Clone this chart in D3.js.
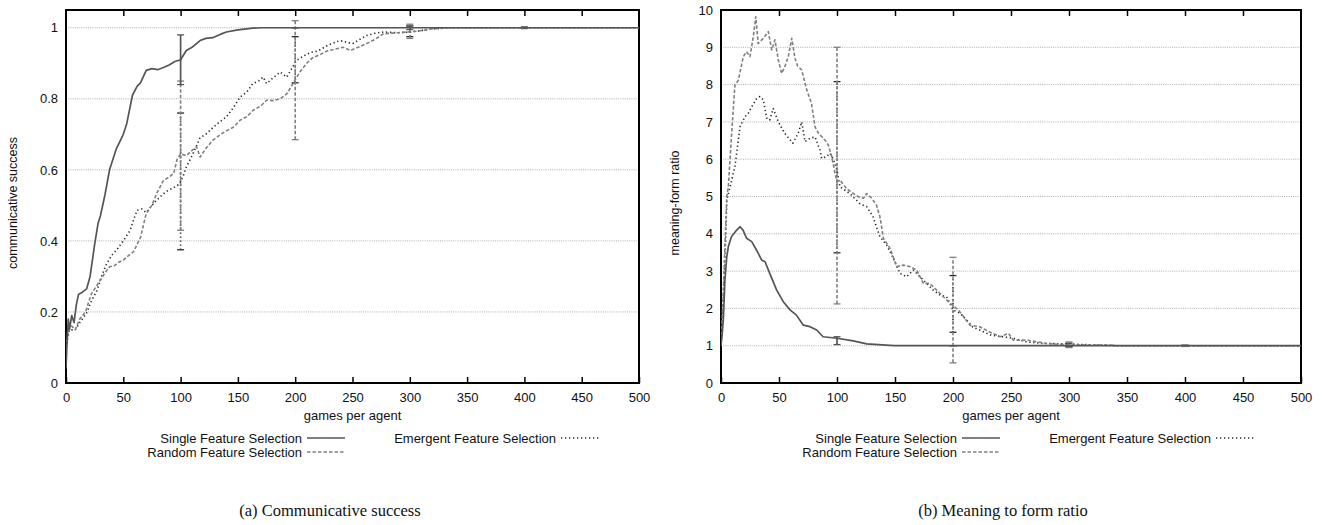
<!DOCTYPE html>
<html>
<head>
<meta charset="utf-8">
<script src="https://cdn.jsdelivr.net/npm/d3@7"></script>
<style>
  html, body { margin: 0; padding: 0; background: #fff; }
  svg { display: block; }
  text { font-family: "Liberation Sans", Arial, Helvetica, sans-serif; fill: #111; }
  .caption { font-family: "Liberation Serif", "Times New Roman", serif; }
</style>
</head>
<body>
<svg id="chart" width="1322" height="525"></svg>
<script>
// ---------------- DATA ----------------
const xTicks = [0, 50, 100, 150, 200, 250, 300, 350, 400, 450, 500];
const csYTicks = [0, 0.2, 0.4, 0.6, 0.8, 1];
const mfYTicks = [0, 1, 2, 3, 4, 5, 6, 7, 8, 9, 10];
const seriesNames = ["Single Feature Selection", "Random Feature Selection", "Emergent Feature Selection"];

// (a) communicative success: [games per agent, value]
const csSingle = [[0,0.04],[1,0.12],[2,0.18],[3,0.15],[5,0.19],[7,0.17],[9,0.22],[11,0.25],[14,0.255],[18,0.265],[21,0.3],[25,0.39],[28,0.45],[30,0.47],[34,0.53],[38,0.6],[44,0.66],[50,0.7],[53,0.73],[58,0.81],[62,0.835],[65,0.845],[70,0.88],[75,0.885],[80,0.882],[85,0.888],[90,0.895],[95,0.905],[100,0.91],[105,0.936],[110,0.945],[117,0.964],[122,0.97],[128,0.972],[135,0.982],[140,0.988],[150,0.994],[163,0.999],[170,1],[500,1]];
const csRandom = [[0,0.1],[2,0.15],[5,0.16],[8,0.15],[12,0.18],[17,0.2],[22,0.25],[26,0.27],[30,0.29],[34,0.31],[38,0.327],[42,0.33],[46,0.34],[50,0.346],[55,0.36],[59,0.37],[62,0.39],[65,0.41],[70,0.477],[75,0.5],[79,0.533],[85,0.57],[90,0.58],[94,0.59],[97,0.63],[100,0.645],[105,0.64],[110,0.655],[114,0.665],[117,0.636],[122,0.66],[128,0.683],[135,0.7],[140,0.71],[146,0.72],[152,0.74],[158,0.75],[163,0.767],[170,0.78],[175,0.796],[181,0.795],[187,0.8],[193,0.815],[198,0.843],[204,0.875],[210,0.9],[215,0.915],[222,0.925],[228,0.935],[235,0.94],[242,0.945],[248,0.936],[255,0.945],[262,0.955],[270,0.968],[277,0.983],[285,0.985],[297,0.988],[305,0.99],[312,0.993],[320,0.997],[335,1],[500,1]];
const csEmergent = [[0,0.1],[3,0.15],[8,0.149],[12,0.17],[18,0.197],[22,0.23],[27,0.26],[31,0.3],[35.5,0.336],[40,0.36],[44,0.374],[50,0.4],[56,0.43],[59,0.46],[62,0.486],[66,0.49],[70,0.48],[75,0.5],[79,0.514],[84,0.53],[88,0.54],[94,0.55],[99,0.56],[102,0.58],[105,0.608],[110,0.64],[117,0.69],[122,0.7],[128.5,0.72],[134,0.735],[140,0.749],[146,0.775],[152,0.805],[158,0.82],[163,0.843],[168,0.85],[172,0.861],[175,0.843],[181,0.86],[187,0.875],[192.6,0.861],[197,0.885],[201,0.908],[207,0.92],[213,0.93],[220,0.935],[228,0.95],[239,0.964],[250,0.955],[262,0.978],[270,0.985],[277,0.988],[290,0.986],[300,0.988],[310,0.992],[320,0.997],[335,1],[500,1]];
// error bars: [x, low, high]
const csErrSingle = [[100,0.84,0.98],[200,1,1],[300,0.995,1.005],[400,0.999,1.001]];
const csErrRandom = [[100,0.43,0.85],[200,0.685,1.02],[300,0.97,1.01],[400,0.998,1.002]];
const csErrEmergent = [[100,0.375,0.76],[200,0.845,0.975],[300,0.975,1.005],[400,0.998,1.002]];

// (b) meaning-form ratio
const mfSingle = [[0,1],[1,1.3],[2,1.69],[3.4,2.76],[5,3.39],[6.3,3.65],[9,3.92],[13.5,4.1],[16.5,4.19],[19,4.1],[22,3.88],[26.5,3.79],[30.7,3.56],[35,3.3],[38,3.25],[42,2.94],[48,2.49],[53.7,2.18],[59.5,1.96],[65,1.82],[71,1.55],[76.7,1.51],[82.5,1.42],[88,1.24],[100,1.2],[114,1.13],[125.6,1.05],[145.7,1.01],[150,1],[500,1]];
const mfRandom = [[0,1],[2,2.5],[4,4.2],[5,5],[6.3,5.26],[9.2,6.7],[12,7.99],[15,8.12],[19.2,8.75],[22,8.88],[25,8.75],[27.8,9.28],[30,9.82],[32,9.1],[36.5,9.24],[40.8,9.42],[43.7,8.93],[46.5,9.2],[49.4,8.66],[52.3,8.3],[55,8.48],[58,8.75],[61,9.24],[63.8,8.7],[66,8.5],[69.6,8.39],[73.9,7.86],[78,7.5],[81,6.87],[84,6.7],[89.7,6.51],[92.5,6.38],[95.4,6.07],[98.3,5.62],[100,5.4],[102.6,5.44],[108,5.22],[114,5.08],[118,5],[122.8,4.95],[125.6,5.08],[130,4.95],[134,4.77],[137,4.46],[140,3.88],[145.7,3.61],[151.5,3.12],[157,3.16],[163,3.12],[168.7,3.03],[174.4,2.67],[180,2.67],[188.8,2.4],[197.4,2.14],[204.6,1.96],[209,1.78],[214.7,1.55],[223,1.51],[232,1.36],[240.5,1.24],[247.7,1.33],[252,1.15],[263.5,1.15],[281,1.06],[301,1.02],[335,1.02],[340,1],[500,1]];
const mfEmergent = [[0,1],[2,2.2],[4,3.8],[5,4.9],[7.8,5.26],[12,5.8],[16.4,6.87],[20.7,7.14],[23.5,7.23],[26.5,7.41],[30.8,7.63],[33.6,7.68],[36.5,7.59],[39.4,7.1],[42,7.05],[45,7.36],[49.4,7],[55,6.69],[62,6.43],[66.6,6.7],[69.6,7],[72.4,6.47],[76.7,6.56],[81,6.6],[85.3,6.25],[86.8,6.02],[91,6.07],[94,6.16],[97,5.98],[100,5.7],[102.6,5.26],[111,5.08],[120,4.8],[125.6,4.73],[131,4.46],[137,3.92],[142.8,3.7],[148.6,3.34],[154.3,2.94],[160,2.85],[165.8,3.03],[171.5,2.85],[177.3,2.67],[183,2.49],[188.8,2.36],[194.5,2.31],[200,1.96],[206,1.87],[211.8,1.69],[217,1.5],[223,1.42],[232,1.29],[243,1.24],[252,1.2],[263.5,1.1],[278,1.06],[298,1.05],[321,1.02],[340,1],[500,1]];
const mfErrSingle = [[100,1.03,1.24],[200,1,1],[300,1,1],[400,1,1]];
const mfErrRandom = [[100,2.12,9.0],[200,0.54,3.37],[300,0.95,1.1],[400,0.98,1.02]];
const mfErrEmergent = [[100,3.49,8.08],[200,1.36,2.88],[300,0.97,1.07],[400,0.99,1.01]];

// ---------------- STYLES ----------------
const styles = [
  { color: "#555", dash: null, width: 1.7 },
  { color: "#808080", dash: "3.5,2", width: 1.6 },
  { color: "#2a2a2a", dash: "1.3,2.7", width: 1.6 }
];

const svg = d3.select("#chart");

function drawChart(cfg) {
  const x = d3.scaleLinear().domain([0, 500]).range([cfg.left, cfg.right]);
  const y = d3.scaleLinear().domain(cfg.yDomain).range([383, 10]);
  const g = svg.append("g");

  // grid lines
  g.selectAll(".grid").data(cfg.yTicks.filter(v => v > cfg.yDomain[0] && v < cfg.yDomain[1]))
    .enter().append("line")
    .attr("x1", cfg.left).attr("x2", cfg.right)
    .attr("y1", d => y(d)).attr("y2", d => y(d))
    .attr("stroke", "#9a9a9a").attr("stroke-width", 0.8).attr("stroke-dasharray", "1,1.2");

  // bottom axis
  const xAxisB = d3.axisBottom(x).tickValues(xTicks).tickSizeInner(-6).tickSizeOuter(0).tickPadding(10).tickFormat(d3.format("d"));
  const gb = g.append("g").attr("transform", `translate(0,${y(cfg.yDomain[0])})`).call(xAxisB);
  // top axis (mirror ticks, no labels)
  const xAxisT = d3.axisTop(x).tickValues(xTicks.slice(1, -1)).tickSizeInner(-6).tickSizeOuter(0).tickFormat("");
  const gt = g.append("g").attr("transform", `translate(0,${y(cfg.yDomain[1])})`).call(xAxisT);
  // left axis labels
  const yAxis = d3.axisLeft(y).tickValues(cfg.yTicks).tickSize(0).tickPadding(8).tickFormat(cfg.yFormat);
  const gl = g.append("g").attr("transform", `translate(${cfg.left},0)`).call(yAxis);
  [gb, gt, gl].forEach(a => {
    a.select(".domain").remove();
    a.selectAll("line").attr("stroke", "#000").attr("stroke-width", 1.5);
    a.selectAll("text").attr("font-size", 13).attr("fill", "#111")
      .attr("font-family", "'Liberation Sans', Arial, sans-serif");
  });

  // frame
  g.append("rect")
    .attr("x", cfg.left).attr("y", y(cfg.yDomain[1]))
    .attr("width", cfg.right - cfg.left).attr("height", y(cfg.yDomain[0]) - y(cfg.yDomain[1]))
    .attr("fill", "none").attr("stroke", "#000").attr("stroke-width", 2);

  // lines
  const line = d3.line().x(d => x(d[0])).y(d => y(d[1]));
  const clipId = "clip" + cfg.id;
  g.append("clipPath").attr("id", clipId).append("rect")
    .attr("x", cfg.left).attr("y", y(cfg.yDomain[1]) - 3)
    .attr("width", cfg.right - cfg.left).attr("height", y(cfg.yDomain[0]) - y(cfg.yDomain[1]) + 3);
  const pg = g.append("g").attr("clip-path", `url(#${clipId})`);

  // draw order: emergent, random, single on top
  [2, 1, 0].forEach(i => {
    const s = styles[i];
    pg.append("path").datum(cfg.series[i])
      .attr("d", line).attr("fill", "none")
      .attr("stroke", s.color).attr("stroke-width", s.width)
      .attr("stroke-dasharray", s.dash)
      .attr("stroke-linejoin", "round");
    const eb = g.append("g");
    cfg.errors[i].forEach(e => {
      const xx = x(e[0]);
      eb.append("line").attr("x1", xx).attr("x2", xx).attr("y1", y(e[1])).attr("y2", y(e[2]))
        .attr("stroke", s.color).attr("stroke-width", s.width).attr("stroke-dasharray", s.dash);
      [e[1], e[2]].forEach(v => {
        eb.append("line").attr("x1", xx - 3.5).attr("x2", xx + 3.5).attr("y1", y(v)).attr("y2", y(v))
          .attr("stroke", s.color).attr("stroke-width", 1.3);
      });
    });
  });

  // axis titles
  const cx = (cfg.left + cfg.right) / 2;
  g.append("text").attr("x", cx).attr("y", 420).attr("text-anchor", "middle")
    .attr("font-size", 13).text("games per agent");
  g.append("text").attr("transform", `translate(${cfg.yTitleX},203) rotate(-90)`)
    .attr("text-anchor", "middle").attr("font-size", 12.5).text(cfg.yTitle);

  // legend
  const legend = [
    { name: seriesNames[0], s: styles[0], tx: cfg.left + 236, y: 438 },
    { name: seriesNames[1], s: styles[1], tx: cfg.left + 236, y: 452 },
    { name: seriesNames[2], s: styles[2], tx: cfg.left + 490, y: 438 }
  ];
  legend.forEach(l => {
    g.append("text").attr("x", l.tx).attr("y", l.y + 4.5).attr("text-anchor", "end")
      .attr("font-size", 13).text(l.name);
    g.append("line").attr("x1", l.tx + 5).attr("x2", l.tx + 43).attr("y1", l.y).attr("y2", l.y)
      .attr("stroke", l.s.color).attr("stroke-width", l.s.width).attr("stroke-dasharray", l.s.dash);
  });

  // caption
  g.append("text").attr("class", "caption").attr("x", cfg.captionX).attr("y", 516)
    .attr("text-anchor", "middle").attr("font-size", 16.5).text(cfg.caption);
}

drawChart({
  id: "a", left: 66, right: 639, yDomain: [0, 1.05], yTicks: csYTicks,
  yFormat: d => (d === 0 || d === 1) ? String(d) : d3.format(".1f")(d),
  series: [csSingle, csRandom, csEmergent],
  errors: [csErrSingle, csErrRandom, csErrEmergent],
  yTitle: "communicative success", yTitleX: 17,
  caption: "(a) Communicative success", captionX: 330
});

drawChart({
  id: "b", left: 721, right: 1301, yDomain: [0, 10], yTicks: mfYTicks,
  yFormat: d3.format("d"),
  series: [mfSingle, mfRandom, mfEmergent],
  errors: [mfErrSingle, mfErrRandom, mfErrEmergent],
  yTitle: "meaning-form ratio", yTitleX: 679,
  caption: "(b) Meaning to form ratio", captionX: 1003
});
</script>
</body>
</html>
